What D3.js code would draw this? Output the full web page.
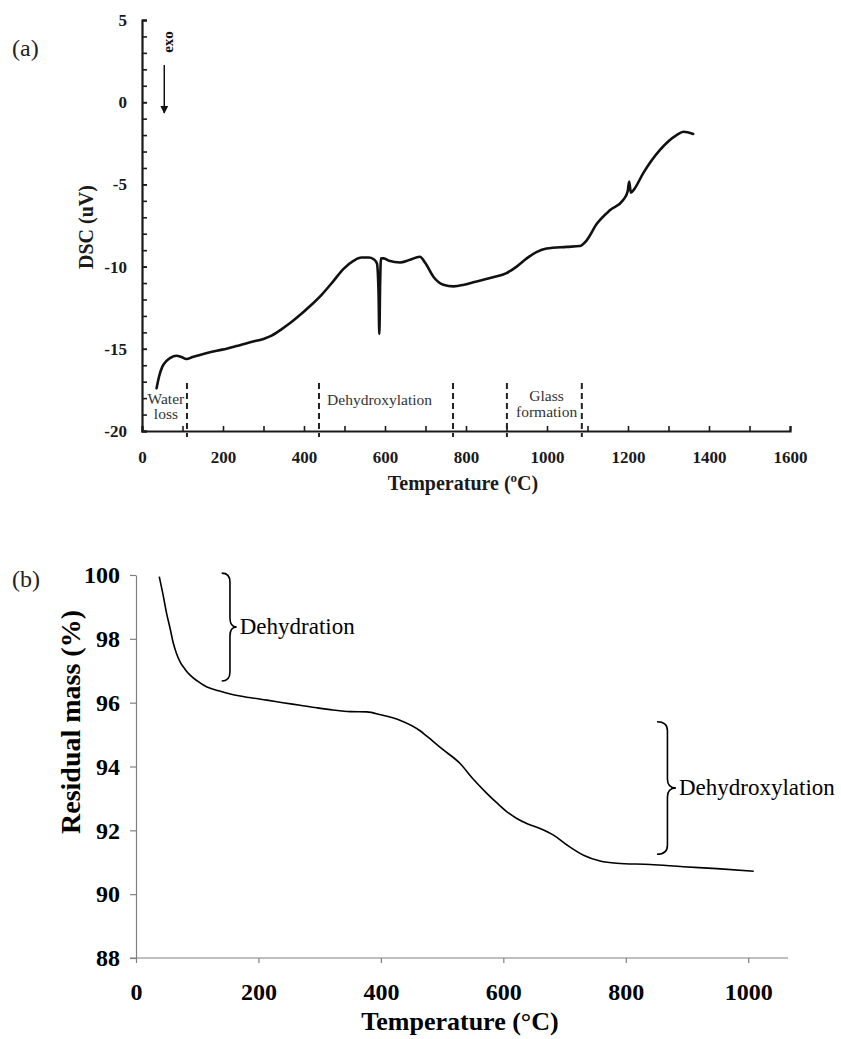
<!DOCTYPE html>
<html>
<head>
<meta charset="utf-8">
<script src="https://cdn.jsdelivr.net/npm/d3@7"></script>
<style>
  body { margin: 0; background: #fff; }
  svg { display: block; font-family: "Liberation Serif", "Times New Roman", serif; }
</style>
</head>
<body>
<svg id="fig" width="841" height="1039"></svg>
<script>
// ---- (a) DSC trace ----
const dscTemp = [36, 42, 50, 60, 70, 85, 97, 110, 125, 143, 170, 198, 230, 267, 300, 320, 345, 365, 390, 415,
  444, 472, 497, 522, 542, 560, 572, 580, 584, 586, 588, 590, 597, 610, 637, 660, 686, 700, 719, 744,
  769, 795, 818, 867, 900, 925, 950, 975, 999, 1048, 1081, 1098, 1123, 1156, 1188, 1199, 1203, 1207,
  1215, 1238, 1279, 1320, 1337, 1361];
const dscSignal = [-17.4, -16.7, -16.1, -15.75, -15.55, -15.42, -15.5, -15.62, -15.5, -15.37, -15.2, -15.05,
  -14.85, -14.6, -14.4, -14.2, -13.8, -13.45, -12.95, -12.4, -11.7, -10.9, -10.15, -9.65, -9.45, -9.45,
  -9.55, -9.8, -11.5, -14.1, -11.0, -9.5, -9.5, -9.65, -9.75, -9.6, -9.4, -9.8, -10.6, -11.1, -11.2,
  -11.1, -10.95, -10.65, -10.4, -10.0, -9.5, -9.1, -8.9, -8.8, -8.75, -8.4, -7.4, -6.56, -5.95, -5.44,
  -4.83, -5.5, -5.3, -4.3, -2.9, -2.0, -1.8, -1.93];

const dscXTicks = d3.range(0, 1601, 100);
const dscXLabels = d3.range(0, 1601, 200);
const dscYTicks = [-20, -15, -10, -5, 0, 5];
const dscYMinor = d3.range(-20, 6, 1);

// region boundaries (°C) and their labels
const regionBounds = [111, 437, 768, 901, 1086];
const regionLabels = [
  { lines: ["Water", "loss"], t: 59, v: [-18.35, -19.3], anchor: "middle" },
  { lines: ["Dehydroxylation"], t: 457, v: [-18.4], anchor: "start" },
  { lines: ["Glass", "formation"], t: 999, v: [-18.2, -19.15], anchor: "middle" }
];

// ---- (b) TGA trace ----
const tgaTemp = [38, 44, 50, 56, 61, 66, 72, 80, 88, 100, 115, 135, 154, 185, 214, 240, 268, 295, 322, 350,
  377, 400, 431, 464, 475, 500, 529, 551, 573, 590, 606, 622, 640, 660, 682, 704, 731, 758, 785, 840,
  894, 949, 1009];
const tgaMass = [99.95, 99.4, 98.8, 98.3, 97.86, 97.55, 97.28, 97.05, 96.87, 96.68, 96.5, 96.37, 96.27,
  96.16, 96.08, 96.0, 95.92, 95.84, 95.77, 95.72, 95.71, 95.62, 95.45, 95.12, 94.95, 94.55, 94.1, 93.6,
  93.16, 92.85, 92.58, 92.37, 92.2, 92.06, 91.85, 91.54, 91.22, 91.04, 90.97, 90.93, 90.86, 90.8, 90.72];

const tgaXTicks = [0, 200, 400, 600, 800, 1000];
const tgaYTicks = [88, 90, 92, 94, 96, 98, 100];

// mass-loss steps marked with braces
const tgaSteps = [
  { name: "Dehydration", t: 140, top: 100.06, bottom: 96.68, width: 15 },
  { name: "Dehydroxylation", t: 851, top: 95.4, bottom: 91.25, width: 19 }
];

const plain = d => String(d).replace("\u2212", "-");

const svg = d3.select("#fig");
svg.append("rect").attr("width", 841).attr("height", 1039).attr("fill", "#fff");

// ================= panel (a) =================
const xa = d3.scaleLinear().domain([0, 1600]).range([142, 790]);
const ya = d3.scaleLinear().domain([-20, 5]).range([431, 20]);
const ink = "#1a1a1a";

const gA = svg.append("g");

// minor y ticks (inside)
gA.append("g")
  .attr("transform", `translate(${xa(0)},0)`)
  .call(d3.axisLeft(ya).tickValues(dscYMinor).tickSize(-5).tickFormat(""))
  .call(g => g.select(".domain").remove())
  .call(g => g.selectAll("line").attr("stroke", ink).attr("stroke-width", 1.6));

// y axis with labels
gA.append("g")
  .attr("transform", `translate(${xa(0)},0)`)
  .call(d3.axisLeft(ya).tickValues(dscYTicks).tickSize(-5).tickPadding(15).tickFormat(plain))
  .call(g => g.select(".domain").attr("stroke", ink).attr("stroke-width", 2.2))
  .call(g => g.selectAll("line").attr("stroke", ink).attr("stroke-width", 1.6))
  .call(g => g.selectAll("text").attr("fill", ink).attr("font-size", 17).attr("font-weight", "bold")
    .attr("font-family", "Liberation Serif, serif"));

// x axis
gA.append("g")
  .attr("transform", `translate(0,${ya(-20)})`)
  .call(d3.axisBottom(xa).tickValues(dscXTicks).tickSize(-5)
    .tickFormat(d => dscXLabels.includes(d) ? String(d) : ""))
  .call(g => g.select(".domain").attr("stroke", ink).attr("stroke-width", 2.2))
  .call(g => g.selectAll("line").attr("stroke", ink).attr("stroke-width", 1.6))
  .call(g => g.selectAll("text").attr("y", 20).attr("fill", ink).attr("font-size", 17)
    .attr("font-weight", "bold").attr("font-family", "Liberation Serif, serif"));

// region boundary lines
gA.selectAll("line.region").data(regionBounds).join("line")
  .attr("class", "region")
  .attr("x1", d => xa(d)).attr("x2", d => xa(d))
  .attr("y1", 383).attr("y2", 437)
  .attr("stroke", "#222").attr("stroke-width", 2).attr("stroke-dasharray", "6,4");

// region labels
regionLabels.forEach(r => {
  r.lines.forEach((ln, i) => {
    gA.append("text")
      .attr("x", xa(r.t)).attr("y", ya(r.v[i]))
      .attr("text-anchor", r.anchor)
      .attr("font-size", 15.5).attr("fill", "#333")
      .text(ln);
  });
});

// DSC curve
const lineA = d3.line().x(d => xa(d[0])).y(d => ya(d[1])).curve(d3.curveMonotoneX);
gA.append("path")
  .datum(d3.zip(dscTemp, dscSignal))
  .attr("d", lineA)
  .attr("fill", "none").attr("stroke", "#111").attr("stroke-width", 2.6)
  .attr("stroke-linejoin", "round").attr("stroke-linecap", "round");

// exo arrow
svg.append("defs").append("marker")
  .attr("id", "arrowHead").attr("viewBox", "0 0 10 10")
  .attr("refX", 9).attr("refY", 5).attr("markerWidth", 8).attr("markerHeight", 12)
  .attr("markerUnits", "userSpaceOnUse").attr("orient", "auto")
  .append("path").attr("d", "M0,0 L10,5 L0,10 Z").attr("fill", "#111");
gA.append("line")
  .attr("x1", xa(55)).attr("x2", xa(55))
  .attr("y1", ya(2.26)).attr("y2", ya(-0.66))
  .attr("stroke", "#111").attr("stroke-width", 1.5)
  .attr("marker-end", "url(#arrowHead)");
gA.append("text")
  .attr("transform", `translate(${xa(64) + 5},${ya(3.66)}) rotate(-90)`)
  .attr("text-anchor", "middle").attr("font-size", 15).attr("font-weight", "bold").attr("fill", "#111")
  .text("exo");

// axis titles
const xTitleA = gA.append("text")
  .attr("x", 463).attr("y", 490).attr("text-anchor", "middle")
  .attr("font-size", 20).attr("font-weight", "bold").attr("fill", ink);
xTitleA.append("tspan").text("Temperature (");
xTitleA.append("tspan").attr("font-size", 13).attr("dy", -8).text("o");
xTitleA.append("tspan").attr("dy", 8).text("C)");

gA.append("text")
  .attr("transform", "translate(93,227) rotate(-90)")
  .attr("text-anchor", "middle").attr("font-size", 20).attr("font-weight", "bold").attr("fill", ink)
  .text("DSC (uV)");

svg.append("text").attr("x", 12).attr("y", 56).attr("font-size", 24).attr("fill", "#222").text("(a)");

// ================= panel (b) =================
const xb = d3.scaleLinear().domain([0, 1065]).range([136, 788]);
const yb = d3.scaleLinear().domain([88, 100]).range([958, 575]);
const grey = "#808080";

const gB = svg.append("g");

gB.append("g")
  .attr("transform", `translate(${xb(0)},0)`)
  .call(d3.axisLeft(yb).tickValues(tgaYTicks).tickSize(6).tickPadding(10).tickSizeOuter(0).tickFormat(String))
  .call(g => g.select(".domain").attr("stroke", grey).attr("stroke-width", 1.2))
  .call(g => g.selectAll("line").attr("stroke", grey).attr("stroke-width", 1.2))
  .call(g => g.selectAll("text").attr("fill", "#000").attr("font-size", 24).attr("font-weight", "bold")
    .attr("font-family", "Liberation Serif, serif"));

gB.append("g")
  .attr("transform", `translate(0,${yb(88)})`)
  .call(d3.axisBottom(xb).tickValues(tgaXTicks).tickSize(5).tickPadding(20).tickSizeOuter(0).tickFormat(String))
  .call(g => g.select(".domain").attr("stroke", grey).attr("stroke-width", 1.2)
    .attr("d", `M${xb(0) - 6},0H${xb(1065)}`))
  .call(g => g.selectAll("line").attr("stroke", grey).attr("stroke-width", 1.2))
  .call(g => g.selectAll("text").attr("fill", "#000").attr("font-size", 24).attr("font-weight", "bold")
    .attr("font-family", "Liberation Serif, serif"));

// TGA curve
const lineB = d3.line().x(d => xb(d[0])).y(d => yb(d[1])).curve(d3.curveMonotoneX);
gB.append("path")
  .datum(d3.zip(tgaTemp, tgaMass))
  .attr("d", lineB)
  .attr("fill", "none").attr("stroke", "#000").attr("stroke-width", 1.6)
  .attr("stroke-linejoin", "round");

// curly braces with step names
function bracePath(x, y0, y1, w) {
  const ym = (y0 + y1) / 2, xm = x + w * 0.55, r = 9;
  return `M${x},${y0} Q${xm},${y0} ${xm},${y0 + r} L${xm},${ym - r} Q${xm},${ym} ${x + w},${ym}` +
    ` Q${xm},${ym} ${xm},${ym + r} L${xm},${y1 - r} Q${xm},${y1} ${x},${y1}`;
}
tgaSteps.forEach(s => {
  const x = xb(s.t), y0 = yb(s.top), y1 = yb(s.bottom);
  gB.append("path").attr("d", bracePath(x, y0, y1, s.width))
    .attr("fill", "none").attr("stroke", "#000").attr("stroke-width", 1.6);
  gB.append("text")
    .attr("x", x + s.width + 3).attr("y", (y0 + y1) / 2 + 7)
    .attr("font-size", 23).attr("fill", "#000").text(s.name);
});

// axis titles
gB.append("text")
  .attr("x", 460).attr("y", 1030).attr("text-anchor", "middle")
  .attr("font-size", 26).attr("font-weight", "bold").attr("fill", "#000")
  .text("Temperature (°C)");
gB.append("text")
  .attr("transform", "translate(80,722) rotate(-90)")
  .attr("text-anchor", "middle").attr("font-size", 28).attr("font-weight", "bold").attr("fill", "#000")
  .text("Residual mass (%)");

svg.append("text").attr("x", 12).attr("y", 587).attr("font-size", 24).attr("fill", "#222").text("(b)");
</script>
</body>
</html>
